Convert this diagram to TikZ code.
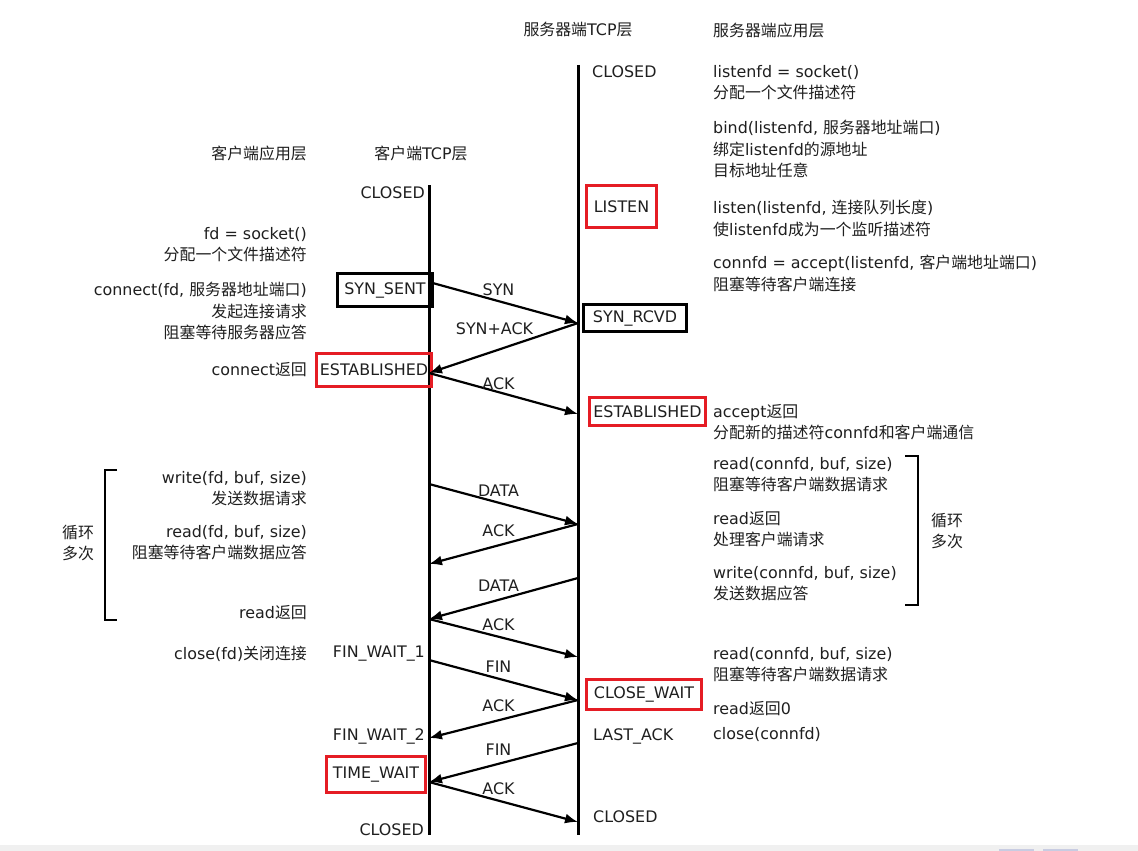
\documentclass[tikz,border=0pt]{standalone}
\usepackage{fontspec}
\setmainfont{DejaVu Sans}
\newfontfamily\zhfont{Noto Sans CJK SC}
\newcommand{\zh}[1]{{\zhfont #1}}
\usetikzlibrary{arrows.meta}
\definecolor{boxred}{RGB}{229,28,36}
\definecolor{stripgray}{RGB}{240,240,240}
\definecolor{tabblue}{RGB}{200,204,226}

\begin{document}
\begin{tikzpicture}[x=1pt,y=-1pt,>={Latex[length=13pt,width=10pt]},
    every node/.style={font=\fontsize{15.9}{21.5}\selectfont,text=black!88},
    lifeline/.style={line width=3pt},
    msg/.style={->,line width=2.2pt},
    msglbl/.style={above=6pt,inner sep=0pt,xshift=-5pt},
    redbox/.style={draw=boxred,line width=3pt,inner sep=0pt},
    blackbox/.style={draw=black,line width=3pt,inner sep=0pt},
    lefttxt/.style={anchor=north west,align=left,inner sep=0pt},
    righttxt/.style={anchor=north east,align=right,inner sep=0pt},
    onelinl/.style={anchor=west,inner sep=0pt},
    onelinr/.style={anchor=east,inner sep=0pt}]
    \useasboundingbox (0,0) rectangle (1138,851);
    \fill[white] (0,0) rectangle (1138,845);
    \fill[stripgray] (0,845) rectangle (1138,851);
    \fill[tabblue] (999,849) rectangle (1034,851);
    \fill[tabblue] (1043,849) rectangle (1078,851);

    % headers
    \node (chdr) at (421,153) {\zh{客户端}TCP\zh{层}};
    \node[onelinr] (cahdr) at (307,153) {\zh{客户端应用层}};
    \node (shdr) at (578,30) {\zh{服务器端}TCP\zh{层}};
    \node[onelinl] (sahdr) at (713,30) {\zh{服务器端应用层}};

    % lifelines
    \coordinate (ctop) at (429,185);
    \coordinate (cbot) at (429,835);
    \coordinate (stop) at (578,65);
    \coordinate (sbot) at (578,835);
    \draw[lifeline] (ctop) -- (cbot);
    \draw[lifeline] (stop) -- (sbot);

    % states
    \node[onelinr] (cclosed1) at (425,193) {CLOSED};
    \node[onelinl] (sclosed1) at (592,72) {CLOSED};
    \node[redbox,minimum width=70pt,minimum height=42pt] (listen) at (621.5,206.5) {LISTEN};
    \node[blackbox,minimum width=95pt,minimum height=33pt] (synsent) at (385,290) {SYN\_SENT};
    \node[blackbox,minimum width=103pt,minimum height=27pt] (synrcvd) at (635,318) {SYN\_RCVD};
    \node[redbox,minimum width=115pt,minimum height=33pt] (cestab) at (374,370) {ESTABLISHED};
    \node[redbox,minimum width=116pt,minimum height=28pt] (sestab) at (647.5,411.5) {ESTABLISHED};
    \node[onelinr] (finwait1) at (425,654) {FIN\_WAIT\_1};
    \node[redbox,minimum width=115pt,minimum height=30pt] (closewait) at (644,694.5) {CLOSE\_WAIT};
    \node[onelinr] (finwait2) at (425,736) {FIN\_WAIT\_2};
    \node[onelinl] (lastack) at (593,736) {LAST\_ACK};
    \node[redbox,minimum width=99pt,minimum height=36pt] (timewait) at (376,774.5) {TIME\_WAIT};
    \node[onelinl] (sclosed2) at (593,817) {CLOSED};
    \node[onelinr] (cclosed2) at (424,830) {CLOSED};

    % client application
    \node[righttxt] (capp1) at (307,227) {fd = socket()\\\zh{分配一个文件描述符}};
    \node[righttxt] (capp2) at (307,282) {connect(fd, \zh{服务器地址端口})\\\zh{发起连接请求}\\\zh{阻塞等待服务器应答}};
    \node[onelinr] (capp3) at (307,370) {connect\zh{返回}};
    \node[righttxt] (capp4) at (307,471) {write(fd, buf, size)\\\zh{发送数据请求}};
    \node[righttxt] (capp5) at (307,525) {read(fd, buf, size)\\\zh{阻塞等待客户端数据应答}};
    \node[onelinr] (capp6) at (307,613) {read\zh{返回}};
    \node[onelinr] (capp7) at (307,654) {close(fd)\zh{关闭连接}};

    % server application
    \node[lefttxt] (sapp1) at (713,65) {listenfd = socket()\\\zh{分配一个文件描述符}};
    \node[lefttxt] (sapp2) at (713,120) {bind(listenfd, \zh{服务器地址端口})\\\zh{绑定}listenfd\zh{的源地址}\\\zh{目标地址任意}};
    \node[lefttxt] (sapp3) at (713,200) {listen(listenfd, \zh{连接队列长度})\\\zh{使}listenfd\zh{成为一个监听描述符}};
    \node[lefttxt] (sapp4) at (713,255) {connfd = accept(listenfd, \zh{客户端地址端口})\\\zh{阻塞等待客户端连接}};
    \node[lefttxt] (sapp5) at (713,404) {accept\zh{返回}\\\zh{分配新的描述符}connfd\zh{和客户端通信}};
    \node[lefttxt] (sapp6) at (713,457) {read(connfd, buf, size)\\\zh{阻塞等待客户端数据请求}};
    \node[lefttxt] (sapp7) at (713,511) {read\zh{返回}\\\zh{处理客户端请求}};
    \node[lefttxt] (sapp8) at (713,566) {write(connfd, buf, size)\\\zh{发送数据应答}};
    \node[lefttxt] (sapp9) at (713,647) {read(connfd, buf, size)\\\zh{阻塞等待客户端数据请求}};
    \node[onelinl] (sapp10) at (713,709) {read\zh{返回}0};
    \node[onelinl] (sapp11) at (713,735) {close(connfd)};

    % loop brackets
    \draw[line width=2.5pt] (117,470) -- (105,470) -- (105,620) -- (117,620);
    \node[align=center,inner sep=0pt] (cloop) at (78,543) {\zh{循环}\\\zh{多次}};
    \draw[line width=2.5pt] (905,456) -- (918,456) -- (918,605) -- (905,605);
    \node[align=center,inner sep=0pt] (sloop) at (947,531) {\zh{循环}\\\zh{多次}};

    % points on the lifelines
    \coordinate (c1) at (429,282);
    \coordinate (c2) at (429,373);
    \coordinate (c3) at (429,484);
    \coordinate (c4) at (429,564);
    \coordinate (c5) at (429,619);
    \coordinate (c6) at (429,660);
    \coordinate (c7) at (429,738);
    \coordinate (c8) at (429,782);
    \coordinate (s1) at (578,323);
    \coordinate (s2) at (578,414);
    \coordinate (s3) at (578,524);
    \coordinate (s4) at (578,578);
    \coordinate (s5) at (578,657);
    \coordinate (s6) at (578,700);
    \coordinate (s7) at (578,743);
    \coordinate (s8) at (578,822);

    % segments
    \draw[msg] (c1) -- node[msglbl] {SYN} (s1);
    \draw[msg] (s1) -- node[msglbl,yshift=6pt,xshift=-4pt] {SYN+ACK} (c2);
    \draw[msg] (c2) -- node[msglbl,yshift=-3pt] {ACK} (s2);
    \draw[msg] (c3) -- node[msglbl] {DATA} (s3);
    \draw[msg] (s3) -- node[msglbl] {ACK} (c4);
    \draw[msg] (s4) -- node[msglbl] {DATA} (c5);
    \draw[msg] (c5) -- node[msglbl] {ACK} (s5);
    \draw[msg] (c6) -- node[msglbl] {FIN} (s6);
    \draw[msg] (s6) -- node[msglbl] {ACK} (c7);
    \draw[msg] (s7) -- node[msglbl] {FIN} (c8);
    \draw[msg] (c8) -- node[msglbl] {ACK} (s8);
\end{tikzpicture}
\end{document}
